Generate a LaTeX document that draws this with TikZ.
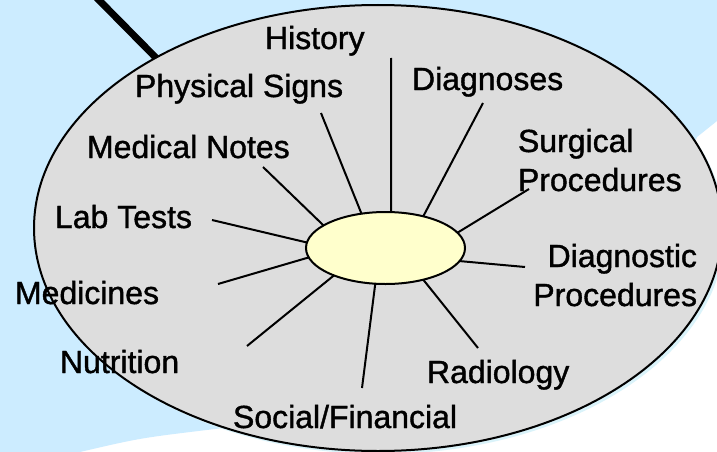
\documentclass[tikz,border=0pt]{standalone}
\usepackage{fontspec}
\setmainfont{Liberation Sans}
\newfontfamily\lblfont[FakeBold=1.2]{Liberation Sans}
\usetikzlibrary{shapes.geometric}
\definecolor{bgblue}{HTML}{CCECFF}
\definecolor{halo}{HTML}{DAF3FA}
\definecolor{panelgray}{HTML}{DDDDDD}
\definecolor{hubyellow}{HTML}{FFFFCC}
\begin{document}
\begin{tikzpicture}[x=1pt,y=-1pt,
  lbl/.style={inner sep=0pt, outer sep=0pt, font=\lblfont\fontsize{32}{39}\selectfont},
  spoke/.style={draw=black, line width=2pt},
  ellbox/.style={ellipse, draw=black, line width=2pt, inner sep=0pt, outer sep=0pt}]
\useasboundingbox (0,0) rectangle (717,452);
\fill[white] (0,0) rectangle (717,452);
\fill[bgblue] (0,0) -- (717,0) -- (717,121) -- (697,137) -- (680,180) -- (330,415) -- (215,429) .. controls (140,438) .. (80,452) -- (0,452) -- cycle;
% handle line
\coordinate (htop) at (93,-6);
\coordinate (hend) at (168,70);
\draw[line width=7pt] (htop) -- (hend);
% halo
\fill[halo] (381,231) ellipse [x radius=344pt, y radius=223pt];
% big panel
\node[ellbox, fill=panelgray, minimum width=688pt, minimum height=446pt] (panel) at (378,228) {};
% hub
\node[ellbox, fill=hubyellow, minimum width=159pt, minimum height=72pt] (hub) at (385.5,248) {};
% outer spoke ends
\coordinate (eHist) at (391,58);
\coordinate (ePhys) at (321,113);
\coordinate (eNotes) at (263,167);
\coordinate (eLab) at (212,220);
\coordinate (eMed) at (218,284);
\coordinate (eNut) at (247,346);
\coordinate (eSoc) at (362,388);
\coordinate (eRad) at (478,348);
\coordinate (eDiagP) at (525,267);
\coordinate (eSurg) at (529,189);
\coordinate (eDiag) at (483,103);
\draw[spoke] (hub.81) -- (eHist);
\draw[spoke] (hub.125) -- (ePhys);
\draw[spoke] (hub.160) -- (eNotes);
\draw[spoke] (hub.176) -- (eLab);
\draw[spoke] (hub.187) -- (eMed);
\draw[spoke] (hub.208) -- (eNut);
\draw[spoke] (hub.254.5) -- (eSoc);
\draw[spoke] (hub.320) -- (eRad);
\draw[spoke] (hub.350.5) -- (eDiagP);
\draw[spoke] (hub.12.5) -- (eSurg);
\draw[spoke] (hub.40.5) -- (eDiag);
% labels
\node[lbl, anchor=base west] (tHist) at (265,49) {History};
\node[lbl, anchor=base west] (tPhys) at (135,97) {Physical Signs};
\node[lbl, anchor=base west] (tDiag) at (412,90) {Diagnoses};
\node[lbl, anchor=base west] (tNotes) at (87,158) {Medical Notes};
\node[lbl, anchor=base west, align=left] (tSurg) at (518,191) {Surgical\\Procedures};
\node[lbl, anchor=base west] (tLab) at (55,228) {Lab Tests};
\node[lbl, anchor=base east, align=right] (tDiagP) at (697,306) {Diagnostic\\Procedures};
\node[lbl, anchor=base west] (tMed) at (15,304) {Medicines};
\node[lbl, anchor=base west] (tNut) at (60,373) {Nutrition};
\node[lbl, anchor=base west] (tRad) at (427,383) {Radiology};
\node[lbl, anchor=base west] (tSoc) at (233,428) {Social/Financial};
\end{tikzpicture}
\end{document}
